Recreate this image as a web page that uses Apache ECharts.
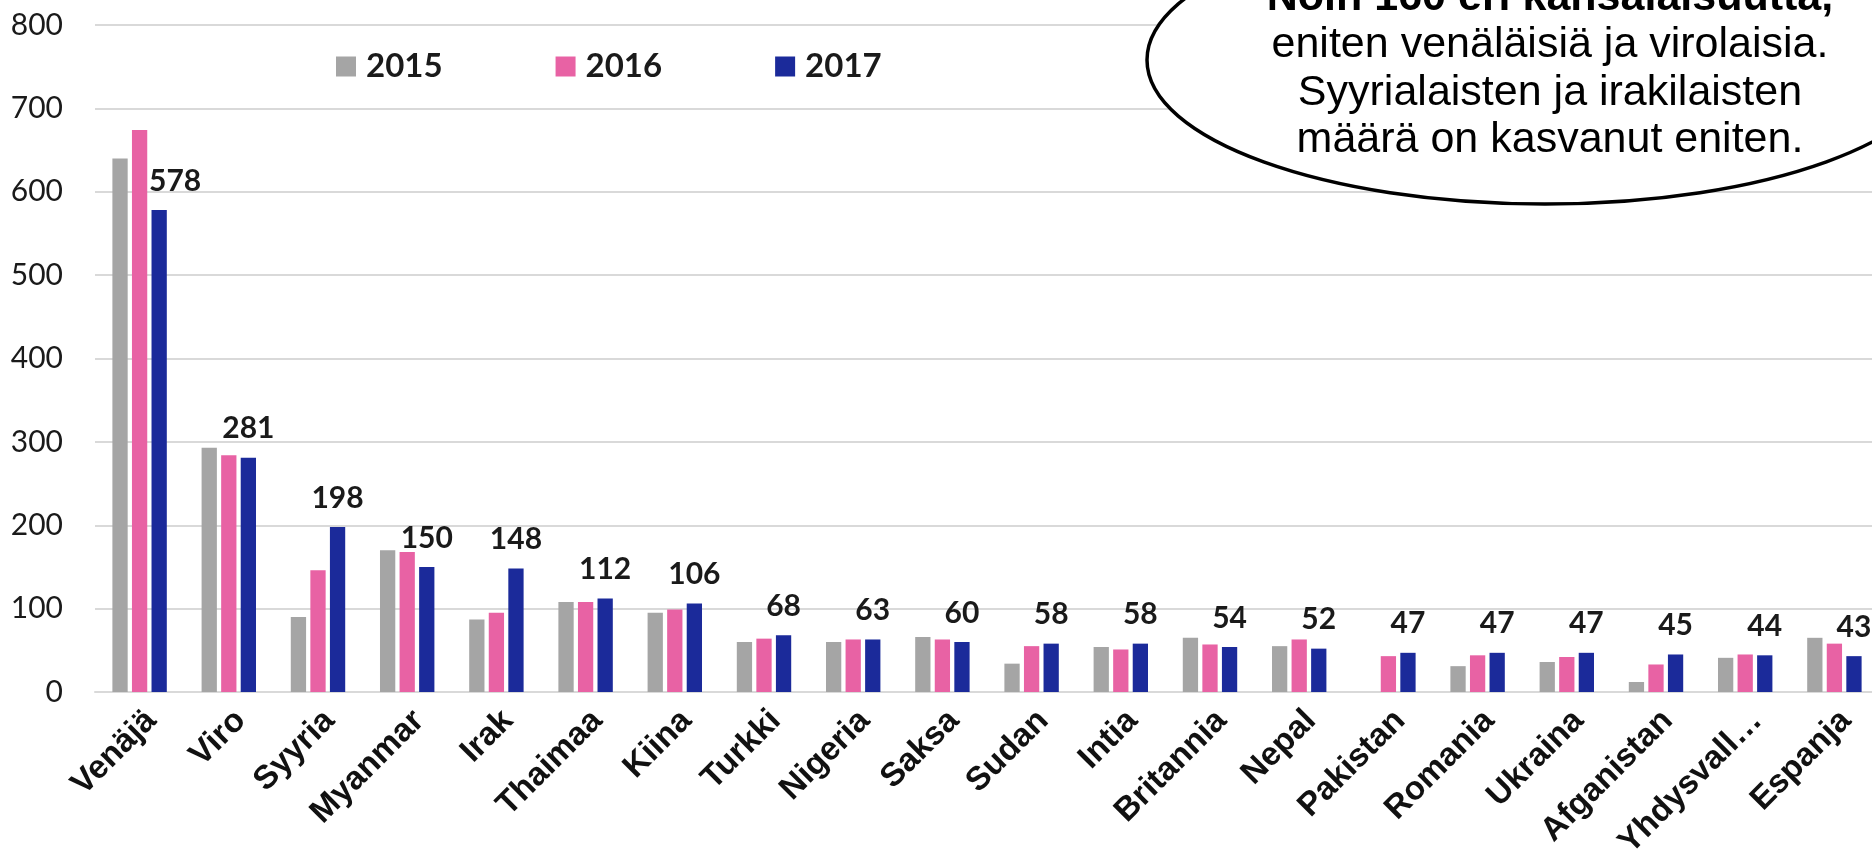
<!DOCTYPE html>
<html>
<head>
<meta charset="utf-8">
<title>Kansalaisuudet 2015–2017</title>
<script src="https://cdn.jsdelivr.net/npm/echarts@6/dist/echarts.min.js"></script>
<style>
  html, body { margin: 0; padding: 0; background: #fff; }
  #main { width: 1872px; height: 851px; }
</style>
</head>
<body>
<div id="main"></div>
<script>
// kategoriat ja arvot
const countries = ['Venäjä', 'Viro', 'Syyria', 'Myanmar', 'Irak', 'Thaimaa', 'Kiina', 'Turkki', 'Nigeria', 'Saksa',
  'Sudan', 'Intia', 'Britannia', 'Nepal', 'Pakistan', 'Romania', 'Ukraina', 'Afganistan', 'Yhdysvall…', 'Espanja']
const years = ['2015', '2016', '2017']
const values2015 = [640, 293, 90, 170, 87, 108, 95, 60, 60, 66, 34, 54, 65, 55, null, 31, 36, 12, 41, 65]
const values2016 = [674, 284, 146, 168, 95, 108, 99, 64, 63, 63, 55, 51, 57, 63, 43, 44, 42, 33, 45, 58]
const values2017 = [578, 281, 198, 150, 148, 112, 106, 68, 63, 60, 58, 58, 54, 52, 47, 47, 47, 45, 44, 43]
const yMin = 0
const yMax = 800
const yStep = 100

// puhekupla
const bubbleLines = [
  'Noin 160 eri kansalaisuutta,',
  'eniten venäläisiä ja virolaisia.',
  'Syyrialaisten ja irakilaisten',
  'määrä on kasvanut eniten.'
]

const colors = ['#A5A5A5', '#E862A4', '#1B2A9A']
const calibri = 'Lato, "Open Sans", sans-serif'
const arial = '"Liberation Sans", Arial, sans-serif'

const chart = echarts.init(document.getElementById('main'))

// Venäjän 2017-otsikko on siirretty oikealle, ettei se osu vaaleanpunaiseen palkkiin
const data2017 = values2017.map((v, i) => i === 0 ? { value: v, label: { offset: [16, 0] } } : v)

const bubbleText = bubbleLines.map((t, i) => ({
  type: 'text',
  z: 101,
  style: {
    text: t,
    x: 1550,
    y: -2 + i * 47.5,
    fill: '#000',
    font: (i === 0 ? 'bold ' : '') + '43px ' + arial,
    textAlign: 'center',
    textVerticalAlign: 'middle'
  }
}))

const option = {
  animation: false,
  color: colors,
  grid: { left: 95, right: -7, top: 25, bottom: 159, containLabel: false, outerBoundsMode: 'none' },
  legend: {
    data: years,
    left: 331,
    top: 45,
    itemWidth: 20,
    itemHeight: 20,
    itemGap: 113,
    icon: 'rect',
    textStyle: { fontFamily: calibri, fontSize: 33, fontWeight: 'bold', color: '#1a1a1a', padding: [0, 0, 0, 5] }
  },
  xAxis: {
    type: 'category',
    data: countries,
    axisTick: { show: false },
    axisLine: { lineStyle: { color: '#d9d9d9', width: 2 } },
    axisLabel: {
      interval: 0,
      rotate: 45,
      margin: 12,
      verticalAlign: 'top',
      fontFamily: arial,
      fontWeight: 'bold',
      fontSize: 33,
      color: '#111'
    }
  },
  yAxis: {
    type: 'value',
    min: yMin,
    max: yMax,
    interval: yStep,
    axisLine: { show: false },
    axisTick: { show: false },
    splitLine: { lineStyle: { color: '#d9d9d9', width: 2 } },
    axisLabel: { margin: 32, fontFamily: calibri, fontSize: 30, color: '#1a1a1a' }
  },
  series: [
    {
      name: years[0], type: 'bar', data: values2015,
      barGap: '28%', barCategoryGap: '39%'
    },
    {
      name: years[1], type: 'bar', data: values2016,
      barGap: '28%', barCategoryGap: '39%'
    },
    {
      name: years[2], type: 'bar', data: data2017,
      barGap: '28%', barCategoryGap: '39%',
      label: {
        show: true,
        position: 'top',
        distance: 14,
        fontFamily: calibri,
        fontWeight: 'bold',
        fontSize: 30,
        color: '#1a1a1a'
      }
    }
  ],
  graphic: [
    {
      type: 'ellipse',
      z: 100,
      shape: { cx: 1545, cy: 60, rx: 398, ry: 144 },
      style: { fill: '#fff', stroke: '#000', lineWidth: 3.5 }
    },
    ...bubbleText
  ]
}

chart.setOption(option)
</script>
</body>
</html>
